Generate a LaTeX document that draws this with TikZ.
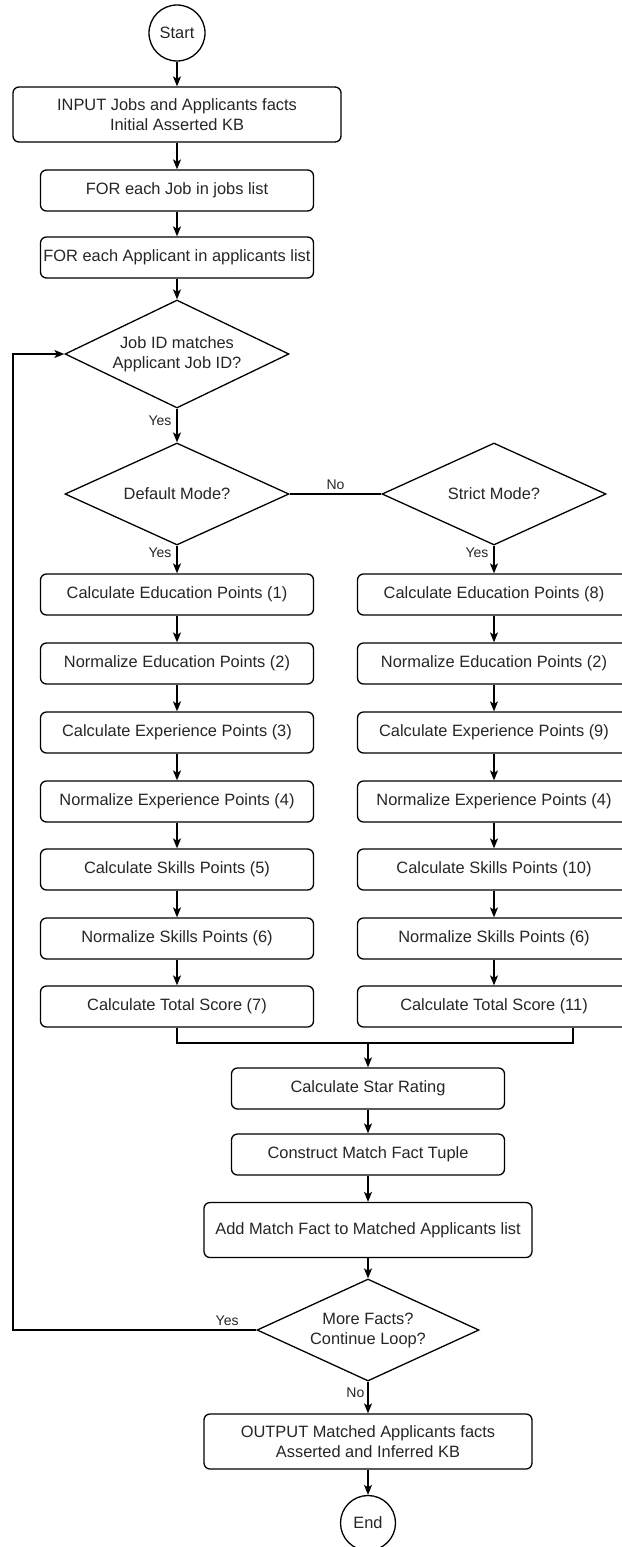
\documentclass[tikz,border=0pt]{standalone}
\usepackage{fontspec}
\setmainfont{Liberation Sans}
\usetikzlibrary{shapes.geometric,arrows.meta}
\begin{document}
\begin{tikzpicture}[x=1pt,y=-1pt,line width=1.3pt,
  every node/.style={font=\fontsize{16.4}{20}\selectfont, text=black!85},
  box/.style={draw, rounded corners=6pt, minimum width=273pt, minimum height=41pt, align=center, inner sep=0pt},
  widebox/.style={box, minimum width=328pt, minimum height=55pt},
  term/.style={draw, circle, minimum size=56pt, inner sep=0pt},
  dia/.style={draw, diamond, minimum width=224pt, minimum height=102pt, inner sep=0pt},
  lbl/.style={font=\fontsize{14}{16}\selectfont, inner sep=1pt},
  line/.style={draw},
  arrow/.style={draw, -{Stealth[length=10pt,width=8pt,inset=2.5pt]}}]

% page area
\fill[white] (0,0) rectangle (621,1547);
\useasboundingbox (0,0) rectangle (621,1547);

% main spine
\node[term] (start) at (177,33) {Start};
\node[widebox] (input) at (177,114.5) {INPUT Jobs and Applicants facts\\Initial Asserted KB};
\node[box] (forjob) at (177,190.5) {FOR each Job in jobs list};
\node[box] (forapp) at (177,257.5) {FOR each Applicant in applicants list};
\node[dia, minimum height=108pt, label={[align=center]center:{Job ID matches\\Applicant Job ID?}}] (match) at (177,354) {};
\node[dia, label={center:Default Mode?}] (dflt) at (177,494) {};
\node[dia, label={center:Strict Mode?}] (strict) at (494,494) {};

% default mode column
\node[box] (L1) at (177,594.5) {Calculate Education Points (1)};
\node[box] (L2) at (177,663.5) {Normalize Education Points (2)};
\node[box] (L3) at (177,732.5) {Calculate Experience Points (3)};
\node[box] (L4) at (177,801.5) {Normalize Experience Points (4)};
\node[box] (L5) at (177,869.5) {Calculate Skills Points (5)};
\node[box] (L6) at (177,938.5) {Normalize Skills Points (6)};
\node[box] (L7) at (177,1006.5) {Calculate Total Score (7)};

% strict mode column
\node[box] (R1) at (494,594.5) {Calculate Education Points (8)};
\node[box] (R2) at (494,663.5) {Normalize Education Points (2)};
\node[box] (R3) at (494,732.5) {Calculate Experience Points (9)};
\node[box] (R4) at (494,801.5) {Normalize Experience Points (4)};
\node[box] (R5) at (494,869.5) {Calculate Skills Points (10)};
\node[box] (R6) at (494,938.5) {Normalize Skills Points (6)};
\node[box] (R7) at (494,1006.5) {Calculate Total Score (11)};

% result steps
\coordinate (merge) at (368,1043);
\node[box] (star) at (368,1088.5) {Calculate Star Rating};
\node[box] (tuple) at (368,1154.5) {Construct Match Fact Tuple};
\node[widebox] (add) at (368,1230) {Add Match Fact to Matched Applicants list};
\node[dia, minimum width=222pt, label={[align=center]center:{More Facts?\\Continue Loop?}}] (more) at (368,1330) {};
\node[widebox] (output) at (368,1441.5) {OUTPUT Matched Applicants facts\\Asserted and Inferred KB};
\node[term, minimum size=55pt] (end) at (368,1523) {End};
\coordinate (loop) at (13,1330);

% connectors
\draw[arrow] (start) -- (input);
\draw[arrow] (input) -- (forjob);
\draw[arrow] (forjob) -- (forapp);
\draw[arrow] (forapp) -- (match);
\draw[arrow] (match.south) -- node[lbl, pos=0.37, left=4pt] {Yes} (dflt.north);
\draw[arrow] (dflt.south) -- node[lbl, pos=0.27, left=4pt] {Yes} (L1.north);
\draw[line] (dflt.east) -- node[lbl, above=3pt] {No} (strict.west);
\draw[arrow] (strict.south) -- node[lbl, pos=0.27, left=4pt] {Yes} (R1.north);

\draw[arrow] (L1) -- (L2);
\draw[arrow] (L2) -- (L3);
\draw[arrow] (L3) -- (L4);
\draw[arrow] (L4) -- (L5);
\draw[arrow] (L5) -- (L6);
\draw[arrow] (L6) -- (L7);

\draw[arrow] (R1) -- (R2);
\draw[arrow] (R2) -- (R3);
\draw[arrow] (R3) -- (R4);
\draw[arrow] (R4) -- (R5);
\draw[arrow] (R5) -- (R6);
\draw[arrow] (R6) -- (R7);

\draw[line] (L7.south) |- (merge);
\draw[line] ([xshift=79pt]R7.south) |- (merge);
\draw[arrow] (merge) -- (star.north);
\draw[arrow] (star) -- (tuple);
\draw[arrow] (tuple) -- (add);
\draw[arrow] (add.south) -- (more.north);
\draw[arrow] (more.south) -- node[lbl, pos=0.36, left=2pt] {No} (output.north);
\draw[arrow] (output) -- (end);
\draw[arrow] (more.west) -- node[lbl, pos=0.12, above=3pt] {Yes} (loop) |- (match.west);
\end{tikzpicture}
\end{document}
